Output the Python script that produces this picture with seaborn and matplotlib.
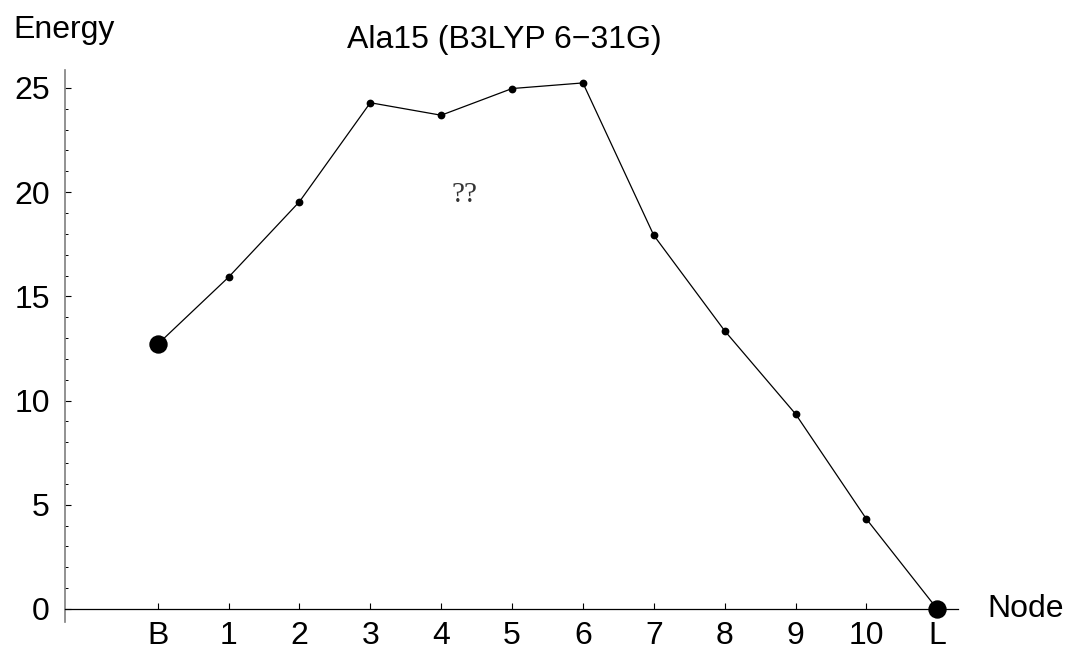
import matplotlib
matplotlib.use("Agg")
import matplotlib.pyplot as plt
from matplotlib.ticker import MultipleLocator, FixedLocator
import numpy as np
import pandas as pd
import seaborn as sns

# Node path between the two end states and the energy at each node
node_labels = ["B", "1", "2", "3", "4", "5", "6", "7", "8", "9", "10", "L"]
energy = [12.70, 15.92, 19.54, 24.29, 23.69, 24.97, 25.24, 17.93, 13.35, 9.36, 4.32, 0.0]
endpoint_labels = ["B", "L"]

title_text = "Ala15 (B3LYP 6\u221231G)"
y_label = "Energy"
x_label = "Node"
y_major = [0, 5, 10, 15, 20, 25]

df = pd.DataFrame({"node": np.arange(len(node_labels)), "label": node_labels, "energy": energy})
ends = df[df["label"].isin(endpoint_labels)]

sns.set_style("white")
plt.rcParams["font.family"] = ["Liberation Sans", "DejaVu Sans"]
plt.rcParams["text.color"] = "black"
plt.rcParams["xtick.color"] = "black"
plt.rcParams["ytick.color"] = "black"

W, H = 1067, 650
FS = 23
fig = plt.figure(figsize=(W / 100, H / 100), dpi=100)
# axes box in pixels: left spine at x=65, right end of x axis at 958, y axis from 70 to 622
ax = fig.add_axes([65 / W, (H - 622) / H, (958 - 65) / W, (622 - 70) / H])

sns.lineplot(data=df, x="node", y="energy", ax=ax, color="black", linewidth=0.9,
             marker="o", markersize=5.6, markeredgewidth=0, sort=False)
sns.scatterplot(data=ends, x="node", y="energy", ax=ax, color="black", s=175,
                linewidth=0, zorder=5)

ax.set_xlim(-1.308, 11.293)
ax.set_ylim(-0.624, 25.86)

for side in ("top", "right"):
    ax.spines[side].set_visible(False)
ax.spines["bottom"].set_position(("data", 0))
ax.spines["bottom"].set_color("black")
ax.spines["bottom"].set_linewidth(0.9)
ax.spines["left"].set_color("#7f7f7f")
ax.spines["left"].set_linewidth(1.2)

ax.xaxis.set_major_locator(FixedLocator(df["node"].tolist()))
ax.set_xticklabels(node_labels)
ax.yaxis.set_major_locator(FixedLocator(y_major))
ax.yaxis.set_minor_locator(MultipleLocator(1))

ax.tick_params(axis="x", which="major", direction="in", length=4, width=0.8,
               colors="black", labelsize=FS, pad=8.5, bottom=True)
ax.tick_params(axis="y", which="major", direction="in", length=4, width=0.8,
               colors="black", labelsize=FS, pad=11, left=True)
ax.tick_params(axis="y", which="minor", direction="in", length=2.4, width=0.7,
               colors="black", left=True)
ax.set_xlabel("")
ax.set_ylabel("")

fig.text(13 / W, (H - 38) / H, y_label, fontsize=FS, ha="left", va="baseline")
fig.text(347 / W, (H - 48) / H, title_text, fontsize=FS, ha="left", va="baseline")
fig.text(987 / W, (H - 617) / H, x_label, fontsize=FS, ha="left", va="baseline")

ax.text(4.336, 19.85, "??", fontsize=21, ha="center", va="center",
        family=["Liberation Serif", "DejaVu Serif"], color="#333333")

fig.savefig("out.png", dpi=100)
